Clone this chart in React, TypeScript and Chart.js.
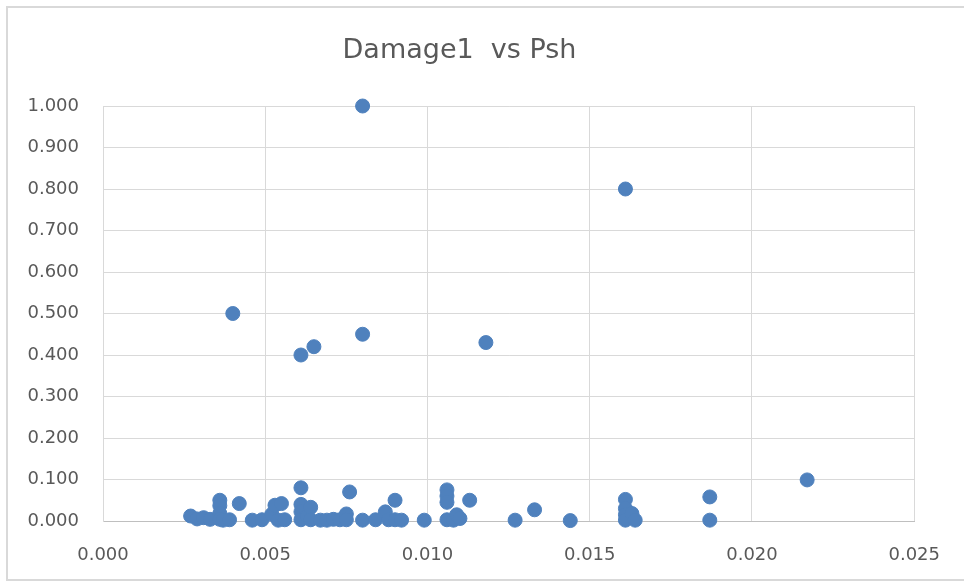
import React, { useEffect, useRef } from "react";
import { Chart, registerables } from "chart.js";

Chart.register(...registerables);

const TITLE = "Damage1  vs Psh";

const pshValues: number[] = [
  0.0080, 0.0161, 0.0040, 0.0061, 0.0065, 0.0080, 0.0118, 0.0217,
  0.0027, 0.0029, 0.0031, 0.0033, 0.0036, 0.0036, 0.0036, 0.0036, 0.0037, 0.0039,
  0.0042, 0.0046, 0.0049, 0.0052, 0.0053, 0.0055, 0.0054, 0.0056,
  0.0061, 0.0061, 0.0061, 0.0061, 0.0063, 0.0064, 0.0064, 0.0067, 0.0069, 0.0071,
  0.0073, 0.0075, 0.0075, 0.0076, 0.0080, 0.0084, 0.0087, 0.0088, 0.0090, 0.0090,
  0.0092, 0.0099, 0.0106, 0.0106, 0.0106, 0.0106, 0.0108, 0.0109, 0.0110, 0.0113,
  0.0127, 0.0133, 0.0144, 0.0161, 0.0161, 0.0161, 0.0161, 0.0163, 0.0164,
  0.0187, 0.0187,
];

const damageValues: number[] = [
  1.000, 0.800, 0.500, 0.400, 0.420, 0.450, 0.430, 0.099,
  0.012, 0.005, 0.008, 0.004, 0.050, 0.037, 0.018, 0.004, 0.002, 0.003,
  0.042, 0.002, 0.003, 0.016, 0.038, 0.042, 0.002, 0.003,
  0.080, 0.040, 0.022, 0.003, 0.012, 0.033, 0.003, 0.002, 0.002, 0.004,
  0.003, 0.017, 0.003, 0.070, 0.002, 0.003, 0.022, 0.003, 0.050, 0.003,
  0.002, 0.002, 0.075, 0.060, 0.045, 0.003, 0.002, 0.015, 0.006, 0.050,
  0.002, 0.027, 0.001, 0.052, 0.030, 0.015, 0.002, 0.018, 0.002,
  0.058, 0.002,
];

const X_MIN = 0;
const X_MAX = 0.025;
const X_STEP = 0.005;
const Y_MIN = 0;
const Y_MAX = 1.0;
const Y_STEP = 0.1;

const FONT = "'DejaVu Sans', 'Open Sans', sans-serif";
const TEXT_COLOR = "#595959";
const GRID_COLOR = "#d9d9d9";
const POINT_COLOR = "#4f81bd";

export default function App() {
  const canvasRef = useRef<HTMLCanvasElement | null>(null);

  useEffect(() => {
    if (!canvasRef.current) return;
    const points = pshValues.map((x, i) => ({ x, y: damageValues[i] }));
    const chart = new Chart(canvasRef.current, {
      type: "scatter",
      data: {
        datasets: [
          {
            label: "Damage1",
            data: points,
            backgroundColor: POINT_COLOR,
            borderColor: POINT_COLOR,
            borderWidth: 1,
            pointRadius: 7,
            clip: false,
          } as any,
        ],
      },
      options: {
        responsive: false,
        animation: false,
        layout: { padding: { left: 0, right: 45, top: 0, bottom: 0 } },
        plugins: {
          legend: { display: false },
          tooltip: { enabled: false },
          title: {
            display: true,
            text: TITLE,
            color: TEXT_COLOR,
            font: { family: FONT, size: 27, weight: "normal" },
            padding: { top: 35, bottom: 38.6 },
          },
        },
        scales: {
          x: {
            type: "linear",
            min: X_MIN,
            max: X_MAX,
            ticks: {
              stepSize: X_STEP,
              color: TEXT_COLOR,
              font: { family: FONT, size: 18 },
              padding: 24,
              maxRotation: 0,
              callback: (v: any) => Number(v).toFixed(3),
            },
            grid: { color: GRID_COLOR, drawTicks: false, lineWidth: 1 },
            border: { display: true, color: "#bfbfbf", width: 1 },
            afterFit: (scale: any) => {
              scale.height = 584 - 521;
            },
          },
          y: {
            type: "linear",
            min: Y_MIN,
            max: Y_MAX,
            ticks: {
              stepSize: Y_STEP,
              color: TEXT_COLOR,
              font: { family: FONT, size: 18 },
              padding: 24,
              callback: (v: any) => Number(v).toFixed(3),
            },
            grid: { color: GRID_COLOR, drawTicks: false, lineWidth: 1 },
            border: { display: true, color: GRID_COLOR, width: 1 },
            afterFit: (scale: any) => {
              scale.width = 103;
            },
          },
        },
      },
    });
    return () => chart.destroy();
  }, []);

  return (
    <div
      style={{
        position: "absolute",
        left: 0,
        top: 0,
        width: 964,
        height: 584,
        background: "#ffffff",
        overflow: "hidden",
      }}
    >
      <div
        style={{
          position: "absolute",
          left: 6,
          top: 6,
          width: 958,
          height: 575,
          borderTop: "2px solid #d9d9d9",
          borderLeft: "2px solid #d9d9d9",
          borderBottom: "2px solid #d9d9d9",
          boxSizing: "border-box",
        }}
      />
      <canvas
        ref={canvasRef}
        width={964}
        height={584}
        style={{ position: "absolute", left: 0, top: 0, width: 964, height: 584 }}
      />
    </div>
  );
}
